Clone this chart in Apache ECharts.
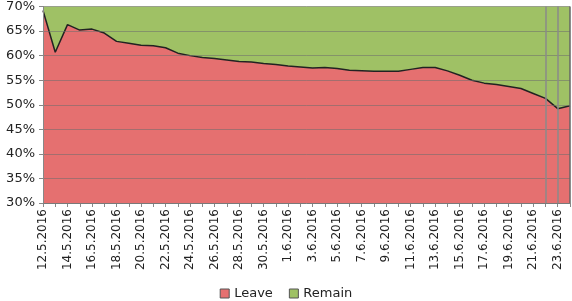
<!DOCTYPE html>
<html>
<head>
<meta charset="utf-8">
<script src="https://cdn.jsdelivr.net/npm/echarts@6/dist/echarts.min.js"></script>
<style>
  html, body { margin: 0; padding: 0; background: #fff; }
  #chart { width: 572px; height: 301px; }
</style>
</head>
<body>
<div id="chart"></div>
<script>
// dates 12.5.2016 .. 24.6.2016
const dates = [
  '12.5.2016','13.5.2016','14.5.2016','15.5.2016','16.5.2016','17.5.2016','18.5.2016','19.5.2016',
  '20.5.2016','21.5.2016','22.5.2016','23.5.2016','24.5.2016','25.5.2016','26.5.2016','27.5.2016',
  '28.5.2016','29.5.2016','30.5.2016','31.5.2016','1.6.2016','2.6.2016','3.6.2016','4.6.2016',
  '5.6.2016','6.6.2016','7.6.2016','8.6.2016','9.6.2016','10.6.2016','11.6.2016','12.6.2016',
  '13.6.2016','14.6.2016','15.6.2016','16.6.2016','17.6.2016','18.6.2016','19.6.2016','20.6.2016',
  '21.6.2016','22.6.2016','23.6.2016','24.6.2016'
];
const leave = [
  69.2, 60.7, 66.3, 65.2, 65.4, 64.6, 62.9, 62.5,
  62.1, 62.0, 61.6, 60.5, 60.0, 59.6, 59.4, 59.1,
  58.8, 58.7, 58.4, 58.2, 57.9, 57.7, 57.5, 57.6,
  57.4, 57.0, 56.9, 56.8, 56.8, 56.8, 57.2, 57.6,
  57.6, 56.9, 56.0, 55.0, 54.4, 54.1, 53.7, 53.3,
  52.3, 51.3, 49.2, 49.8
];
const remain = leave.map(v => 100 - v);
const markDates = ['22.6.2016', '23.6.2016'];
const yTicks = [30, 35, 40, 45, 50, 55, 60, 65, 70];

const chart = echarts.init(document.getElementById('chart'));
const font = 'DejaVu Sans';

chart.setOption({
  animation: false,
  grid: { left: 43, right: 2, top: 6, bottom: 98 },
  legend: {
    top: 282,
    left: 'center',
    itemWidth: 9,
    itemHeight: 9,
    itemGap: 16,
    icon: 'rect',
    textStyle: { fontFamily: font, fontSize: 13, color: '#222' },
    data: [
      { name: 'Leave', itemStyle: { color: '#e57070', borderColor: '#555', borderWidth: 1 } },
      { name: 'Remain', itemStyle: { color: '#9fc165', borderColor: '#555', borderWidth: 1 } }
    ]
  },
  xAxis: {
    type: 'category',
    data: dates,
    boundaryGap: false,
    axisLine: { lineStyle: { color: '#888' } },
    axisTick: { interval: 0, length: 4, lineStyle: { color: '#888' } },
    axisLabel: {
      interval: 1,
      rotate: 90,
      fontFamily: font,
      fontSize: 12,
      color: '#222',
      margin: 6
    }
  },
  yAxis: {
    type: 'value',
    min: yTicks[0],
    max: yTicks[yTicks.length - 1],
    interval: 5,
    z: 5,
    axisLine: { show: true, lineStyle: { color: '#888' } },
    axisTick: { show: true, length: 4, lineStyle: { color: '#888' } },
    splitLine: { lineStyle: { color: 'rgba(110,110,110,0.55)', width: 1 } },
    axisLabel: {
      fontFamily: font,
      fontSize: 13,
      color: '#222',
      margin: 8,
      formatter: v => v + '%'
    }
  },
  series: [
    {
      name: 'Leave',
      type: 'line',
      stack: 'vote',
      data: leave,
      symbol: 'none',
      itemStyle: { color: '#e57070' },
      lineStyle: { color: '#222', width: 1.5 },
      areaStyle: { color: '#e57070', opacity: 1 },
      markLine: {
        silent: true,
        symbol: 'none',
        label: { show: false },
        lineStyle: { color: '#8a8a8a', width: 1.5, type: 'solid' },
        data: markDates.map(d => ({ xAxis: d })).concat([
          { xAxis: dates[dates.length - 1], lineStyle: { color: '#666', width: 1.5 } }
        ])
      }
    },
    {
      name: 'Remain',
      type: 'line',
      stack: 'vote',
      data: remain,
      symbol: 'none',
      itemStyle: { color: '#9fc165' },
      lineStyle: { width: 0 },
      areaStyle: { color: '#9fc165', opacity: 1 }
    }
  ]
});
</script>
</body>
</html>
